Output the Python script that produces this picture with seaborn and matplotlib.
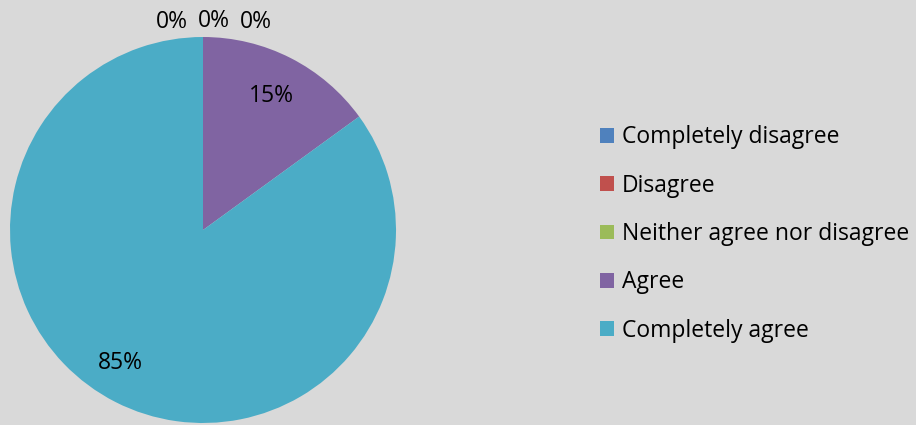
import numpy as np
import matplotlib
matplotlib.use("Agg")
import matplotlib.pyplot as plt
import seaborn as sns

# Survey responses (share of respondents, %)
categories = ["Completely disagree", "Disagree", "Neither agree nor disagree",
              "Agree", "Completely agree"]
shares = [0, 0, 0, 15, 85]
colors = ["#4F81BD", "#C0504D", "#9BBB59", "#8064A2", "#4BACC6"]

sns.set_style("white")
palette = sns.color_palette(colors)
plt.rcParams["font.family"] = ["Open Sans", "DejaVu Sans"]

bg = "#D9D9D9"
W, H = 916, 425
fig = plt.figure(figsize=(W / 100, H / 100), dpi=100, facecolor=bg)

# Pie centred at (203, 230) px with radius 193 px
cx, cy, r = 203, 230, 193
ax = fig.add_axes([(cx - r) / W, (H - cy - r) / H, 2 * r / W, 2 * r / H])
ax.set_facecolor(bg)

wedges, _ = ax.pie(shares, colors=palette, startangle=90, counterclock=False,
                   radius=1.0, wedgeprops=dict(linewidth=0))
ax.set_xlim(-1, 1)
ax.set_ylim(-1, 1)
ax.set_aspect("equal")
ax.axis("off")

# Percentage labels: inside for visible wedges, in a row above the top for empty ones
fs = 16.5
zero_idx = [i for i, v in enumerate(shares) if v == 0]
for i, (w, v) in enumerate(zip(wedges, shares)):
    label = f"{v}%"
    if v == 0:
        k = zero_idx.index(i)
        x = 0.057 + (k - 1) * 0.218
        y = 1.08 + (0.005 if k == 1 else 0)
        ax.text(x, y, label, ha="center", va="center", fontsize=fs,
                color="black", clip_on=False)
    else:
        mid = (w.theta1 + w.theta2) / 2
        # larger slice label sits a little further out and round
        if v > 50:
            mid -= 5
            d = 0.81
        else:
            d = 0.78
        ang = np.deg2rad(mid)
        ax.text(d * np.cos(ang), d * np.sin(ang), label, ha="center", va="center",
                fontsize=fs, color="black")

leg = fig.legend(wedges, categories, loc="center left",
                 bbox_to_anchor=(600 / W, 1 - 234 / H), frameon=False,
                 fontsize=fs, labelcolor="black", handlelength=0.62, handleheight=0.62,
                 handletextpad=0.33, labelspacing=1.06, borderaxespad=0,
                 borderpad=0)

fig.savefig("out.png", dpi=100, facecolor=bg)
